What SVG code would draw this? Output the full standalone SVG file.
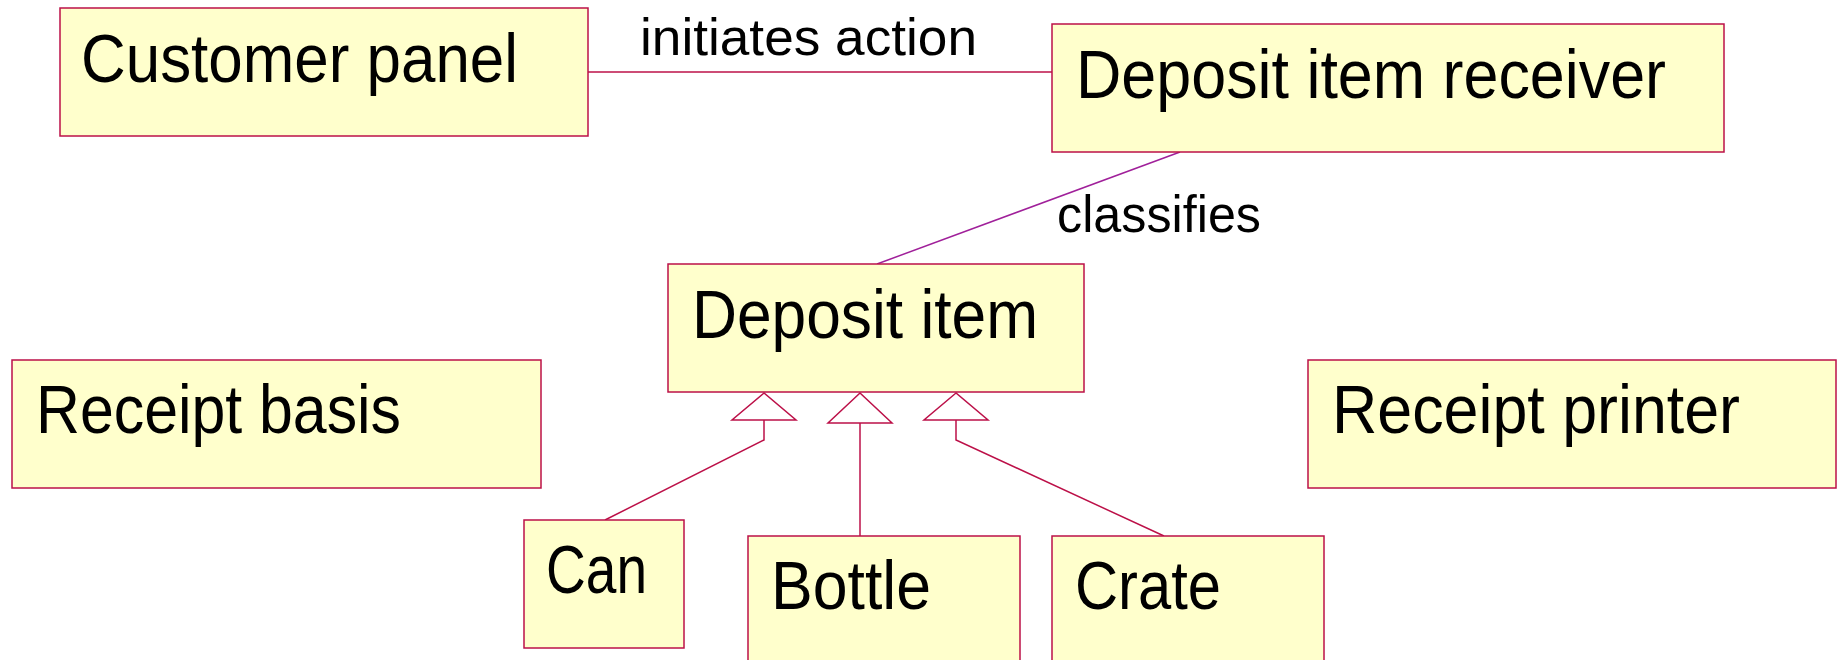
<svg xmlns="http://www.w3.org/2000/svg" width="1841" height="660" viewBox="0 0 1841 660">
<style>
.box{fill:#FFFFCC;stroke:#BC1048;stroke-width:1.5}
.lbl{font-family:"Liberation Sans",Arial,sans-serif;font-size:68px;fill:#000}
.elbl{font-family:"Liberation Sans",Arial,sans-serif;font-size:52px;fill:#000}
.conn{fill:none;stroke:#BC1048;stroke-width:1.5}
.tri{fill:#fff;stroke:#BC1048;stroke-width:1.5}
</style>
<rect width="1841" height="660" fill="#fff"/>
<g id="connectors">
<line class="conn" x1="588" y1="72" x2="1052" y2="72"/>
<text class="elbl" x="640" y="55" textLength="337" lengthAdjust="spacingAndGlyphs">initiates action</text>
<line x1="1180" y1="152" x2="877" y2="264" stroke="#A0209A" stroke-width="1.5"/>
<text class="elbl" x="1057" y="232" textLength="204" lengthAdjust="spacingAndGlyphs">classifies</text>
<polyline class="conn" points="605,520 764,440 764,420"/>
<polygon class="tri" points="764,393 732,420 796,420"/>
<line class="conn" x1="860" y1="536" x2="860" y2="423"/>
<polygon class="tri" points="860,393 828,423 892,423"/>
<polyline class="conn" points="1164,536 956,440 956,420"/>
<polygon class="tri" points="956,393 924,420 988,420"/>
</g>
<g id="customer-panel">
<rect class="box" x="60" y="8" width="528" height="128"/>
<text class="lbl" x="81" y="82" textLength="437" lengthAdjust="spacingAndGlyphs">Customer panel</text>
</g>
<g id="deposit-item-receiver">
<rect class="box" x="1052" y="24" width="672" height="128"/>
<text class="lbl" x="1076" y="98" textLength="590" lengthAdjust="spacingAndGlyphs">Deposit item receiver</text>
</g>
<g id="deposit-item">
<rect class="box" x="668" y="264" width="416" height="128"/>
<text class="lbl" x="692" y="338" textLength="346" lengthAdjust="spacingAndGlyphs">Deposit item</text>
</g>
<g id="receipt-basis">
<rect class="box" x="12" y="360" width="529" height="128"/>
<text class="lbl" x="36" y="433" textLength="365" lengthAdjust="spacingAndGlyphs">Receipt basis</text>
</g>
<g id="receipt-printer">
<rect class="box" x="1308" y="360" width="528" height="128"/>
<text class="lbl" x="1332" y="433" textLength="408" lengthAdjust="spacingAndGlyphs">Receipt printer</text>
</g>
<g id="can">
<rect class="box" x="524" y="520" width="160" height="128"/>
<text class="lbl" x="546" y="593" textLength="101" lengthAdjust="spacingAndGlyphs">Can</text>
</g>
<g id="bottle">
<rect class="box" x="748" y="536" width="272" height="128"/>
<text class="lbl" x="771" y="609" textLength="160" lengthAdjust="spacingAndGlyphs">Bottle</text>
</g>
<g id="crate">
<rect class="box" x="1052" y="536" width="272" height="128"/>
<text class="lbl" x="1075" y="609" textLength="146" lengthAdjust="spacingAndGlyphs">Crate</text>
</g>
</svg>
